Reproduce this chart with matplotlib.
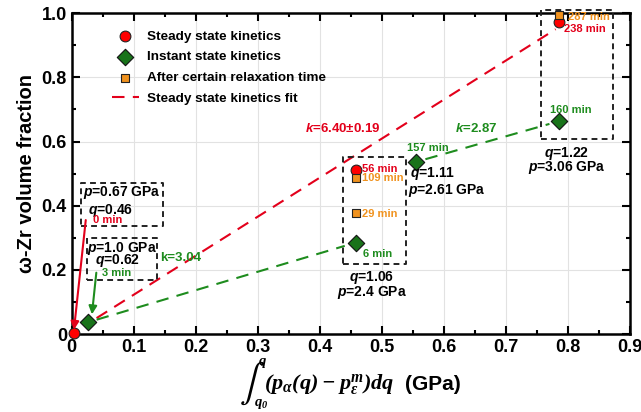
import matplotlib.pyplot as plt
from matplotlib.ticker import MultipleLocator, FuncFormatter

plt.rcParams["font.family"] = ["Liberation Sans", "DejaVu Sans"]
plt.rcParams["font.weight"] = "bold"
plt.rcParams["mathtext.fontset"] = "custom"
plt.rcParams["mathtext.rm"] = "Liberation Sans:bold"
plt.rcParams["mathtext.it"] = "Liberation Sans:italic:bold"
plt.rcParams["mathtext.bf"] = "Liberation Sans:bold"
plt.rcParams["mathtext.sf"] = "Liberation Serif:italic:bold"

# данні
steady_x = [0.003, 0.458, 0.785]
steady_y = [0.003, 0.51, 0.972]
instant_x = [0.026, 0.458, 0.555, 0.785]
instant_y = [0.037, 0.283, 0.536, 0.664]
relax_x = [0.458, 0.458, 0.785]
relax_y = [0.486, 0.377, 0.994]

fit_red_x = [0.04, 0.78]
fit_red_y = [0.05, 0.95]
fit_green1_x = [0.04, 0.44]
fit_green1_y = [0.045, 0.275]
fit_green2_x = [0.57, 0.77]
fit_green2_y = [0.545, 0.655]

RED = "#e3001b"
GREEN = "#1e8c1e"
DGREEN = "#19731a"
ORANGE = "#f0921e"

fig = plt.figure(figsize=(6.41, 4.12), dpi=100)
ax = fig.add_axes([0.112, 0.189, 0.871, 0.779])

ax.grid(True, color="#e2e2e2", linewidth=0.8, zorder=0)

ax.plot(fit_red_x, fit_red_y, "--", color=RED, lw=1.5, dashes=(6, 4), zorder=2)
ax.plot(fit_green1_x, fit_green1_y, "--", color=GREEN, lw=1.5, dashes=(6, 4), zorder=2)
ax.plot(fit_green2_x, fit_green2_y, "--", color=GREEN, lw=1.5, dashes=(6, 4), zorder=2)

ax.scatter(steady_x, steady_y, s=60, marker="o", color="#ff0000", edgecolor="#222222",
           lw=0.8, zorder=5, clip_on=False, label="Steady state kinetics")
ax.scatter(instant_x, instant_y, s=70, marker="D", color=DGREEN, edgecolor="#111111",
           lw=0.8, zorder=5, clip_on=False, label="Instant state kinetics")
ax.scatter(relax_x, relax_y, s=40, marker="s", color=ORANGE, edgecolor="#222222",
           lw=0.8, zorder=6, clip_on=False, label="After certain relaxation time")
ax.plot([], [], "--", color=RED, lw=1.5, dashes=(6, 4), label="Steady state kinetics fit")

ax.legend(loc="upper left", bbox_to_anchor=(0.05, 0.985), frameon=False, fontsize=9.7,
          handlelength=2.0, labelspacing=0.62, handletextpad=0.6)

# пунктирні рамки
boxes = [
    (0.015, 0.336, 0.147, 0.470),
    (0.024, 0.168, 0.137, 0.299),
    (0.437, 0.218, 0.539, 0.551),
    (0.756, 0.607, 0.873, 1.01),
]
for x0, y0, x1, y1 in boxes:
    ax.plot([x0, x1, x1, x0, x0], [y0, y0, y1, y1, y0], color="#222222", lw=1.4,
            dashes=(3, 2.2), zorder=4, clip_on=False)

kw = dict(fontsize=10, fontweight="bold", va="center", zorder=7)
ax.text(0.018, 0.442, "$p$=0.67 GPa", ha="left", **kw)
ax.text(0.026, 0.386, "$q$=0.46", ha="left", **kw)
ax.text(0.024, 0.268, "$p$=1.0 GPa", ha="left", **kw)
ax.text(0.037, 0.230, "$q$=0.62", ha="left", **kw)
ax.text(0.484, 0.178, "$q$=1.06", ha="center", **kw)
ax.text(0.484, 0.131, "$p$=2.4 GPa", ha="center", **kw)
ax.text(0.545, 0.500, "$q$=1.11", ha="left", **kw)
ax.text(0.542, 0.449, "$p$=2.61 GPa", ha="left", **kw)
ax.text(0.798, 0.564, "$q$=1.22", ha="center", **kw)
ax.text(0.798, 0.520, "$p$=3.06 GPa", ha="center", **kw)

sk = dict(fontsize=8, fontweight="bold", va="center", ha="left", zorder=7)
ax.text(0.034, 0.355, "0 min", color=RED, **sk)
ax.text(0.048, 0.190, "3 min", color=GREEN, **sk)
ax.text(0.468, 0.514, "56 min", color=RED, **sk)
ax.text(0.468, 0.486, "109 min", color=ORANGE, **sk)
ax.text(0.468, 0.374, "29 min", color=ORANGE, **sk)
ax.text(0.469, 0.249, "6 min", color=GREEN, **sk)
ax.text(0.540, 0.579, "157 min", color=GREEN, **sk)
ax.text(0.800, 0.988, "287 min", color=ORANGE, **sk)
ax.text(0.794, 0.950, "238 min", color=RED, **sk)
ax.text(0.771, 0.698, "160 min", color=GREEN, **sk)

kk = dict(fontsize=9.5, fontweight="bold", va="center", ha="left", zorder=7)
ax.text(0.376, 0.642, "$k$=6.40±0.19", color=RED, **kk)
ax.text(0.618, 0.642, "$k$=2.87", color=GREEN, **kk)
ax.text(0.142, 0.237, "k=3.04", color=GREEN, **kk)

ax.annotate("", xy=(0.003, 0.005), xytext=(0.023, 0.364),
            arrowprops=dict(arrowstyle="-|>", color=RED, lw=1.5, mutation_scale=12), zorder=6)
ax.annotate("", xy=(0.032, 0.053), xytext=(0.040, 0.20),
            arrowprops=dict(arrowstyle="-|>", color=GREEN, lw=1.5, mutation_scale=12), zorder=6)

ax.set_xlim(0, 0.9)
ax.set_ylim(0, 1.0)
ax.xaxis.set_major_locator(MultipleLocator(0.1))
ax.xaxis.set_minor_locator(MultipleLocator(0.05))
ax.yaxis.set_major_locator(MultipleLocator(0.2))
ax.yaxis.set_minor_locator(MultipleLocator(0.1))
fmt = FuncFormatter(lambda v, p: "0" if abs(v) < 1e-9 else f"{v:.1f}")
ax.xaxis.set_major_formatter(fmt)
ax.yaxis.set_major_formatter(fmt)
ax.tick_params(which="both", direction="in", top=True, right=True, width=1.5)
ax.tick_params(which="major", length=6, labelsize=13)
ax.tick_params(which="minor", length=3)
for s in ax.spines.values():
    s.set_linewidth(1.8)
for lab in ax.get_xticklabels() + ax.get_yticklabels():
    lab.set_fontweight("bold")

# підпис осі x: велике інтегральне позначення окремо
W, H = 641, 412
fig.text(240 / W, 1 - 383 / H, "∫", family=["STIXGeneral", "DejaVu Serif"], fontsize=27,
         fontweight="normal", ha="left", va="center")
fig.text(258 / W, 1 - 363 / H, r"$\mathsf{q}$", fontsize=10.5, ha="left", va="center")
fig.text(254 / W, 1 - 404 / H, r"$\mathsf{q_0}$", fontsize=10.5, ha="left", va="center")
fig.text(264 / W, 1 - 384 / H, r"$\mathsf{(p_\alpha(q)-p_\varepsilon^m)dq}$", fontsize=16,
         ha="left", va="center")
fig.text(405 / W, 1 - 385 / H, "(GPa)", fontsize=15, fontweight="bold", ha="left", va="center")

ax.set_ylabel("ω-Zr volume fraction", fontsize=14.5, fontweight="bold", labelpad=4)

fig.savefig("out.png", dpi=100)
